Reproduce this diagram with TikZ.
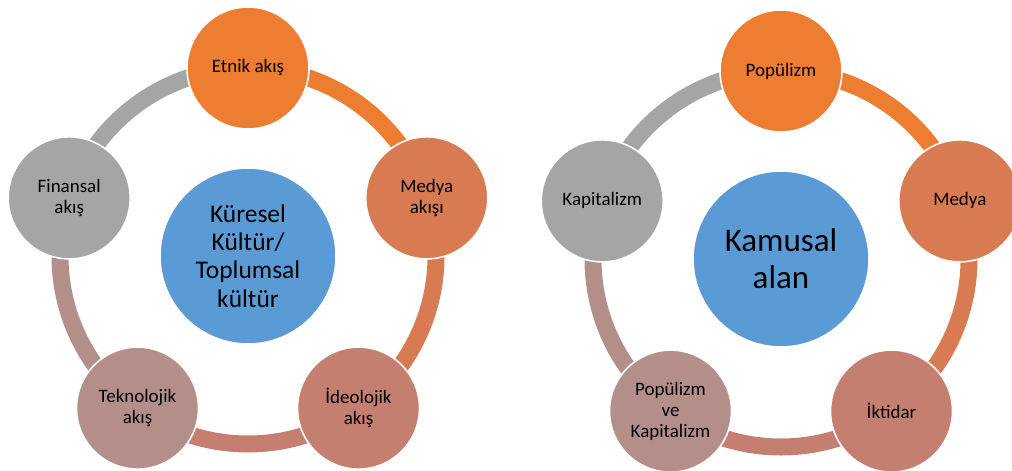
\documentclass[tikz,border=0pt]{standalone}
\usepackage{fontspec}
\setmainfont{Carlito}
\usetikzlibrary{calc, backgrounds}

\definecolor{cycorange}{HTML}{ED7D31}
\definecolor{cycmedya}{HTML}{D97B52}
\definecolor{cycrose}{HTML}{C57F70}
\definecolor{cycmauve}{HTML}{B48F8A}
\definecolor{cycgray}{HTML}{A5A5A5}
\definecolor{hubblue}{HTML}{5B9BD5}

\begin{document}
\begin{tikzpicture}[
    item/.style={circle, draw=white, line width=0.9pt, minimum size=2.44cm, inner sep=0pt,
        align=center, font=\fontsize{10.8}{11.9}\selectfont},
    hub/.style={circle, draw=white, line width=0.9pt, fill=hubblue, minimum size=3.52cm,
        inner sep=0pt, align=center},
    ring/.style={line width=0.34cm}
]
    \useasboundingbox (0,0) rectangle (20.24,9.4);
    \coordinate (lc) at (4.96,4.28);
    \coordinate (rc) at (15.62,4.22);

    % left cycle
    \node[hub, font=\fontsize{14.5}{16.1}\selectfont] (kultur) at (lc) {Küresel\\Kültür/\\Toplumsal\\kültür};
    \node[item, fill=cycorange] (etnik) at ($(lc)+(90:3.76)$) {Etnik akış};
    \node[item, fill=cycmedya] (medyaakis) at ($(lc)+(18:3.76)$) {Medya\\akışı};
    \node[item, fill=cycrose] (ideo) at ($(lc)+(-54:3.76)$) {İdeolojik\\akış};
    \node[item, fill=cycmauve] (tekno) at ($(lc)+(-126:3.76)$) {Teknolojik\\akış};
    \node[item, fill=cycgray] (finans) at ($(lc)+(162:3.76)$) {Finansal\\akış};

    % right cycle
    \node[hub, font=\fontsize{18.8}{20.9}\selectfont] (kamusal) at (rc) {Kamusal\\alan};
    \node[item, fill=cycorange] (populizm) at ($(rc)+(90:3.76)$) {Popülizm};
    \node[item, fill=cycmedya] (medya) at ($(rc)+(18:3.76)$) {Medya};
    \node[item, fill=cycrose] (iktidar) at ($(rc)+(-54:3.76)$) {İktidar};
    \node[item, fill=cycmauve] (popkap) at ($(rc)+(-126:3.76)$) {Popülizm\\ve\\Kapitalizm};
    \node[item, fill=cycgray] (kapital) at ($(rc)+(162:3.76)$) {Kapitalizm};

    \begin{scope}[on background layer]
        \draw[ring, cycorange] (etnik.center) arc[start angle=90, end angle=18, radius=3.76];
        \draw[ring, cycmedya] (medyaakis.center) arc[start angle=18, end angle=-54, radius=3.76];
        \draw[ring, cycrose] (ideo.center) arc[start angle=-54, end angle=-126, radius=3.76];
        \draw[ring, cycmauve] (tekno.center) arc[start angle=-126, end angle=-198, radius=3.76];
        \draw[ring, cycgray] (finans.center) arc[start angle=162, end angle=90, radius=3.76];

        \draw[ring, cycorange] (populizm.center) arc[start angle=90, end angle=18, radius=3.76];
        \draw[ring, cycmedya] (medya.center) arc[start angle=18, end angle=-54, radius=3.76];
        \draw[ring, cycrose] (iktidar.center) arc[start angle=-54, end angle=-126, radius=3.76];
        \draw[ring, cycmauve] (popkap.center) arc[start angle=-126, end angle=-198, radius=3.76];
        \draw[ring, cycgray] (kapital.center) arc[start angle=162, end angle=90, radius=3.76];
    \end{scope}
\end{tikzpicture}
\end{document}
